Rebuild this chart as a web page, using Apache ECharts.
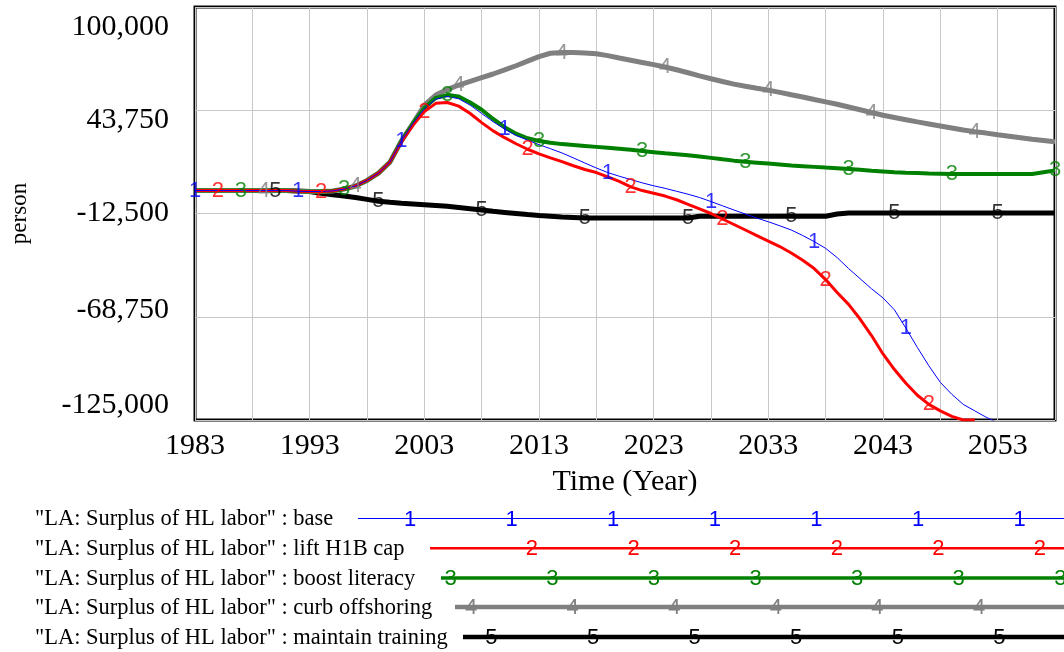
<!DOCTYPE html>
<html>
<head>
<meta charset="utf-8">
<script src="https://cdn.jsdelivr.net/npm/echarts@6.0.0/dist/echarts.min.js"></script>
<style>
html, body { margin: 0; padding: 0; background: #fff; }
#main { width: 1064px; height: 652px; }
</style>
</head>
<body>
<div id="main"></div>
<script>
// LA: Surplus of HL labor (person), one value per year from 1983 to 2058
var startYear = 1983;

var base = [
    0, 0, 0, 0, 0, 0, 0, 0, 0,
    -400, -500, -500, -200,
    800, 2500, 5500, 9500, 15500, 27000, 36500, 44500, 49800, 51300,
    50000, 46500, 42000, 37500, 33500, 30000, 27500, 25000, 22800, 20500,
    17800, 15000, 12300, 9800, 7800, 6000, 4200, 2600, 1200, -400,
    -2000, -3800, -6000, -8300, -10600, -12800, -15000, -17000, -19200, -21500,
    -24500, -27800, -31500, -36500, -42500, -48000, -53500, -58500, -65000, -75000,
    -85500, -95500, -104500, -111000, -116500, -120000, -123500, -126500,
    null, null, null, null, null
];
var liftCap = [
    0, 0, 0, 0, 0, 0, 0, 0, 0,
    -400, -500, -500, -200,
    800, 2500, 5500, 9500, 15500, 26500, 35500, 43000, 47500, 48000,
    46000, 42000, 37000, 32500, 28800, 25500, 22500, 20000, 17800, 15800,
    13500, 11500, 9800, 7500, 5000, 2000, 0, -1500, -3000, -5000,
    -7500, -10000, -12500, -15500, -18500, -21500, -24500, -27500, -30500, -34000,
    -38000, -42500, -48500, -55500, -62000, -70000, -79000, -89000, -97500, -105000,
    -111500, -116500, -120000, -123000, -125000, -125000,
    null, null, null, null, null, null, null
];
var boostLiteracy = [
    0, 0, 0, 0, 0, 0, 0, 0, 0,
    -400, -500, -500, -200,
    800, 2500, 5500, 9500, 15500, 27000, 36500, 45000, 50500, 52000,
    51200, 48000, 44000, 39000, 34500, 31000, 28500, 27000, 26000, 25300,
    24800, 24300, 23800, 23300, 22800, 22200, 21500, 20900, 20300, 19800,
    19200, 18500, 17800, 17000, 16300, 15700, 15200, 14700, 14200, 13700,
    13300, 12900, 12500, 12200, 11800, 11300, 10800, 10400, 10000, 9700,
    9500, 9300, 9200, 9000, 9000, 9000, 9000, 9000, 9000, 9000,
    9000, 10000, 11000
];
var curbOffshoring = [
    0, 0, 0, 0, 0, 0, 0, 0, 0,
    -400, -500, -500, -200,
    800, 2500, 5500, 9500, 15500, 27000, 36500, 46500, 52000, 55000,
    57500, 59500, 61500, 63500, 65700, 68000, 70500, 73000, 74800, 75200,
    75200, 75000, 74500, 73500, 72200, 71000, 69800, 68600, 67300, 65800,
    64200, 62500, 60900, 59400, 58000, 56800, 55700, 54700, 53500, 52200,
    51000, 49600, 48300, 47000, 45500, 44000, 42500, 41000, 39800, 38600,
    37400, 36300, 35200, 34100, 33000, 32100, 31300, 30400, 29600, 28800,
    28000, 27300, 26600
];
var maintainTraining = [
    0, 0, 0, 0, 0, 0, 0, 0, 0,
    -200, -500, -1500, -2300,
    -3000, -3800, -4800, -5800, -6400, -6900, -7300, -7700, -8100, -8600,
    -9200, -9900, -10600, -11300, -11900, -12500, -13100, -13600, -14000, -14400,
    -14700, -15000, -15000, -15000, -15000, -15000, -15000, -15000, -15000, -15000,
    -15000, -14000, -14000, -14000, -14000, -14000, -14000, -14000, -14000, -14000,
    -14000, -14000, -14000, -12800, -12200, -12200, -12200, -12200, -12200, -12200,
    -12200, -12200, -12200, -12200, -12200, -12200, -12200, -12200, -12200, -12200,
    -12200, -12200, -12200
];

var seriesNames = ['base', 'lift H1B cap', 'boost literacy', 'curb offshoring', 'maintain training'];
var seriesValues = [base, liftCap, boostLiteracy, curbOffshoring, maintainTraining];

var xLabelYears = [1983, 1993, 2003, 2013, 2023, 2033, 2043, 2053];
var xGridYears = [1983, 1988, 1993, 1998, 2003, 2008, 2013, 2018, 2023, 2028, 2033, 2038, 2043, 2048, 2053, 2058];
var yTicks = [-125000, -68750, -12500, 43750, 100000];

var colors = ['#0000ff', '#ff0000', '#008000', '#808080', '#000000'];
var lineWidths = [1, 3, 4, 5, 5];
var legendWidths = [1, 2.5, 3.5, 4.5, 4.5];

var years = base.map(function (v, i) { return startYear + i; });

var myChart = echarts.init(document.getElementById('main'));

var series = [];
seriesValues.forEach(function (vals, s) {
    series.push({
        name: seriesNames[s],
        type: 'line',
        data: years.map(function (y, i) { return [y, vals[i]]; }),
        showSymbol: false,
        symbol: 'none',
        connectNulls: false,
        lineStyle: { color: colors[s], width: lineWidths[s] },
        z: 6 - s,
        clip: true
    });
    // number markers sitting on the curve, Vensim style
    var marks = [];
    for (var k = 0; k < 10; k++) {
        var idx = Math.round(0.17 + 1.78 * s + 8.89 * k);
        if (idx < vals.length && vals[idx] !== null) marks.push([years[idx], vals[idx]]);
    }
    series.push({
        type: 'scatter',
        data: marks,
        symbol: 'circle',
        symbolSize: 1,
        itemStyle: { color: 'rgba(0,0,0,0)' },
        label: {
            show: true,
            position: 'inside',
            formatter: String(s + 1),
            color: colors[s],
            fontFamily: 'Liberation Sans',
            fontSize: 22
        },
        z: 10
    });
});

// legend drawn below the plot: text, line, numbers
var legendRowY = [518.5, 548.3, 578, 607, 637];
var legendLineStart = [358, 430, 441, 455, 463];
var graphics = [];
seriesNames.forEach(function (n, s) {
    graphics.push({
        type: 'text',
        x: 35, y: legendRowY[s] + 1,
        style: {
            text: '"LA: Surplus of HL labor" : ' + n,
            font: '22.5px "Liberation Serif"',
            fill: '#000',
            align: 'left',
            verticalAlign: 'middle'
        }
    });
    graphics.push({
        type: 'line',
        shape: { x1: legendLineStart[s], y1: legendRowY[s], x2: 1064, y2: legendRowY[s] },
        style: { stroke: colors[s], lineWidth: legendWidths[s] }
    });
    for (var k = 0; k < 8; k++) {
        var x = 410 + 20.35 * s + 101.6 * k;
        if (x > 1072) break;
        if (x < legendLineStart[s] + 5) continue;
        graphics.push({
            type: 'text',
            x: x, y: legendRowY[s] + 1,
            style: {
                text: String(s + 1),
                font: '22px "Liberation Sans"',
                fill: colors[s],
                align: 'center',
                verticalAlign: 'middle'
            }
        });
    }
});

var yRich = {
    l0: { padding: [0, 0, 30, 0] },
    l1: { padding: [0, 0, 14, 0] },
    l2: {},
    l3: { padding: [20, 0, 0, 0] },
    l4: { padding: [40, 0, 0, 0] }
};
Object.keys(yRich).forEach(function (k) {
    yRich[k].fontFamily = 'Liberation Serif';
    yRich[k].fontSize = 30;
    yRich[k].color = '#000';
});

option = {
    animation: false,
    backgroundColor: '#fff',
    grid: {
        left: 195, top: 7, right: 9, bottom: 232,
        show: true,
        borderColor: '#000',
        borderWidth: 3,
        backgroundColor: 'transparent'
    },
    xAxis: {
        type: 'value',
        min: 1983,
        max: 2058,
        name: 'Time (Year)',
        nameLocation: 'middle',
        nameGap: 47,
        nameTextStyle: { fontFamily: 'Liberation Serif', fontSize: 30, color: '#000' },
        axisLine: { show: false },
        axisTick: { show: false, customValues: xGridYears },
        splitLine: { show: true, lineStyle: { color: '#c8c8c8', width: 1 } },
        axisLabel: {
            customValues: xLabelYears,
            formatter: function (v) { return String(v); },
            fontFamily: 'Liberation Serif',
            fontSize: 30,
            color: '#000',
            margin: 11
        }
    },
    yAxis: {
        type: 'value',
        min: -125000,
        max: 100000,
        name: 'person',
        nameLocation: 'middle',
        nameRotate: 90,
        nameGap: 164,
        nameTextStyle: { fontFamily: 'Liberation Serif', fontSize: 23, color: '#000' },
        axisLine: { show: false },
        axisTick: { show: false, customValues: yTicks },
        splitLine: { show: true, lineStyle: { color: '#c8c8c8', width: 1 } },
        axisLabel: {
            customValues: yTicks,
            margin: 26,
            formatter: function (v) {
                var i = yTicks.indexOf(v);
                return '{l' + i + '|' + echarts.format.addCommas(v) + '}';
            },
            rich: yRich
        }
    },
    graphic: graphics,
    series: series
};

myChart.setOption(option);
</script>
</body>
</html>
